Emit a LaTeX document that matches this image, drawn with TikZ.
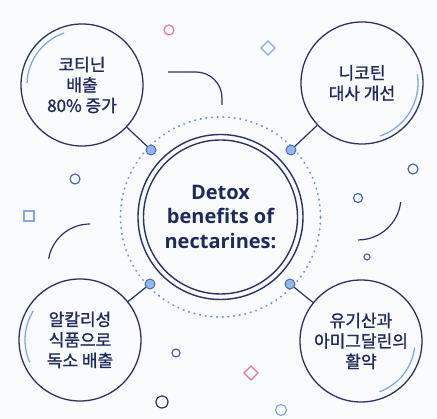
\documentclass[tikz,border=0pt]{standalone}
\usepackage{fontspec}
\setmainfont{Open Sans}
\newfontfamily\krfont[FakeBold=1.2]{Noto Sans CJK KR}
\usetikzlibrary{calc}

\definecolor{navy}{HTML}{2A3263}
\definecolor{inkblue}{HTML}{1F2A5C}
\definecolor{midblue}{HTML}{4A63B0}
\definecolor{skyblue}{HTML}{7FA8E8}
\definecolor{dotblue}{HTML}{6894DE}
\definecolor{dotfill}{HTML}{8FB8F0}
\definecolor{rose}{HTML}{E572A0}
\definecolor{paper}{HTML}{FAFBFD}

\tikzset{
    sat/.style={draw=navy, line width=1.3pt, circle, minimum size=122pt, inner sep=0pt,
        align=center, text=inkblue, font=\krfont\fontsize{17}{20.5}\selectfont},
    ring/.style={draw=navy, line width=1.4pt, circle, inner sep=0pt},
    knob/.style={draw=midblue, fill=dotfill, line width=0.9pt, circle, minimum size=10pt, inner sep=0pt},
    link/.style={draw=navy, line width=1.2pt},
    accent/.style={draw=skyblue, line width=1.3pt},
    deco/.style={line width=1.2pt}
}

\begin{document}
\begin{tikzpicture}[x=1pt, y=1pt]
                    \fill[paper] (0, 0) rectangle (437, 419);
                    \useasboundingbox (0, 0) rectangle (437, 419);

                    \draw[dotblue, line width=1.7pt, dash pattern=on 0.7pt off 5pt, line cap=round] (220.5, 202) circle (100pt);
                    \node [ring, minimum size=165pt] (Nh) at (220.5, 202) {};
                    \node [ring, minimum size=154pt, align=center, text=inkblue,
                        font=\bfseries\fontsize{20}{24.5}\selectfont] (Nc) at (220.5, 202) {Detox\\benefits of\\nectarines:};

                    \node [sat] (Sa) at (82, 334) {코티닌\\배출\\80\% 증가};
                    \node [sat] (Sb) at (362, 336) {니코틴\\대사 개선};
                    \node [sat] (Sc) at (80, 79) {알칼리성\\식품으로\\독소 배출};
                    \node [sat] (Sd) at (361, 78) {유기산과\\아미그달린의\\활약};

                    \node [knob] (Ka) at (151, 269) {};
                    \node [knob] (Kb) at (291, 269) {};
                    \node [knob] (Kc) at (150, 135) {};
                    \node [knob] (Kd) at (290, 135) {};

                    \draw[link] (Sa) -- (Ka);
                    \draw[link] (Sb) -- (Kb);
                    \draw[link] (Sc) -- (Kc);
                    \draw[link] (Sd) -- (Kd);

                    \draw[accent] ($(Sa.center)+(109:55pt)$) arc[start angle=109, end angle=178, radius=55pt];
                    \draw[accent] ($(Sb.center)+(9:56pt)$) arc[start angle=9, end angle=-71, radius=56pt];
                    \draw[accent] ($(Sc.center)+(148:55pt)$) arc[start angle=148, end angle=204, radius=55pt];
                    \draw[accent] ($(Sd.center)+(-7:54pt)$) arc[start angle=-7, end angle=-70, radius=54pt];

                    \draw[deco, navy] (168, 347) -- (196, 347) arc[start angle=90, end angle=0, radius=26pt] -- (222, 314);
                    \draw[deco, navy] (400.7, 216.8) arc[start angle=-7, end angle=-90, radius=43pt];
                    \draw[deco, navy] (90, 195) arc[start angle=90, end angle=170, radius=42pt];

                    \draw[deco, rose] (169, 389) circle (5pt);
                    \draw[deco, midblue] (75, 240) circle (5pt);
                    \draw[deco, skyblue] (268, 378) -- (275, 371) -- (268, 364) -- (261, 371) -- cycle;
                    \draw[deco, midblue] (413, 250) circle (5pt);
                    \draw[deco, midblue] (358, 221) circle (4.5pt);
                    \draw[deco, midblue] (367, 162) circle (3pt);
                    \draw[deco, skyblue] (24, 198) rectangle (34, 208);
                    \draw[deco, midblue] (176, 66) circle (4pt);
                    \draw[deco, navy] (162, 17) circle (6pt);
                    \draw[deco, rose] (251, 53) -- (258, 46) -- (251, 39) -- (244, 46) -- cycle;
                    \draw[deco, skyblue] (281, 9) circle (5.5pt);
            \end{tikzpicture}
\end{document}
